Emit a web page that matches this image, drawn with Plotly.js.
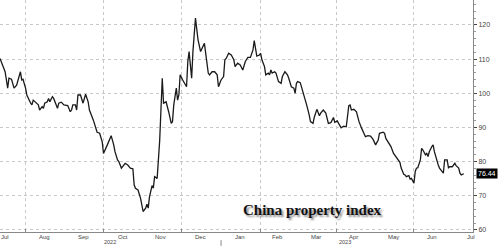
<!DOCTYPE html>
<html>
<head>
<meta charset="utf-8">
<script src="https://cdn.plot.ly/plotly-3.0.1.min.js"></script>
<style>
  html, body { margin: 0; padding: 0; background: #fff; }
  #chart { width: 500px; height: 246px; }
</style>
</head>
<body>
<div id="chart"></div>
<script>
const dates = [
  "2022-07-12","2022-07-16","2022-07-18","2022-07-19","2022-07-21","2022-07-23","2022-07-25","2022-07-26","2022-07-28","2022-07-29","2022-07-30",
  "2022-08-01","2022-08-02","2022-08-05","2022-08-06","2022-08-07","2022-08-09","2022-08-11","2022-08-12","2022-08-14","2022-08-15","2022-08-16","2022-08-18","2022-08-19","2022-08-20","2022-08-22","2022-08-23","2022-08-24","2022-08-26","2022-08-27","2022-08-29","2022-08-31",
  "2022-09-02","2022-09-03","2022-09-05","2022-09-06","2022-09-07","2022-09-09","2022-09-10","2022-09-11","2022-09-13","2022-09-15","2022-09-17","2022-09-19","2022-09-20","2022-09-23","2022-09-26","2022-09-28","2022-09-30",
  "2022-10-01","2022-10-04","2022-10-05","2022-10-07","2022-10-09","2022-10-10","2022-10-12","2022-10-13","2022-10-15","2022-10-17","2022-10-18","2022-10-20","2022-10-22","2022-10-24","2022-10-25","2022-10-26","2022-10-28","2022-10-30","2022-10-31",
  "2022-11-01","2022-11-03","2022-11-04","2022-11-05","2022-11-06","2022-11-08","2022-11-09","2022-11-10","2022-11-12","2022-11-14","2022-11-15","2022-11-16","2022-11-17","2022-11-19","2022-11-21","2022-11-23","2022-11-24","2022-11-25","2022-11-27","2022-11-28","2022-11-29","2022-11-30",
  "2022-12-02","2022-12-05","2022-12-06","2022-12-07","2022-12-09","2022-12-10","2022-12-12","2022-12-13","2022-12-14","2022-12-16","2022-12-17","2022-12-19","2022-12-20","2022-12-22","2022-12-23","2022-12-25","2022-12-27","2022-12-29","2022-12-30",
  "2023-01-01","2023-01-03","2023-01-04","2023-01-05","2023-01-07","2023-01-09","2023-01-11","2023-01-12","2023-01-14","2023-01-16","2023-01-18","2023-01-20","2023-01-22","2023-01-24","2023-01-26","2023-01-27","2023-01-28","2023-01-29","2023-01-31",
  "2023-02-01","2023-02-02","2023-02-04","2023-02-05","2023-02-07","2023-02-08","2023-02-09","2023-02-10","2023-02-12","2023-02-13","2023-02-15","2023-02-17","2023-02-18","2023-02-20","2023-02-22","2023-02-23","2023-02-25","2023-02-27","2023-02-28",
  "2023-03-01","2023-03-02","2023-03-04","2023-03-05","2023-03-07","2023-03-09","2023-03-11","2023-03-12","2023-03-14","2023-03-15","2023-03-17","2023-03-19","2023-03-20","2023-03-22","2023-03-24","2023-03-26","2023-03-28","2023-03-30","2023-03-31",
  "2023-04-02","2023-04-03","2023-04-05","2023-04-07","2023-04-09","2023-04-11","2023-04-12","2023-04-13","2023-04-15","2023-04-17","2023-04-19","2023-04-21","2023-04-23","2023-04-24","2023-04-26","2023-04-28","2023-04-30",
  "2023-05-02","2023-05-04","2023-05-05","2023-05-08","2023-05-09","2023-05-10","2023-05-12","2023-05-14","2023-05-16","2023-05-18","2023-05-20","2023-05-21","2023-05-22","2023-05-24","2023-05-25","2023-05-26","2023-05-28","2023-05-29","2023-05-30",
  "2023-06-01","2023-06-02","2023-06-03","2023-06-04","2023-06-06","2023-06-07","2023-06-08","2023-06-10","2023-06-11","2023-06-12","2023-06-13","2023-06-15","2023-06-16","2023-06-17","2023-06-19","2023-06-20","2023-06-21","2023-06-23","2023-06-24","2023-06-25","2023-06-27","2023-06-28","2023-06-29",
  "2023-07-01","2023-07-02","2023-07-03","2023-07-04","2023-07-06","2023-07-07","2023-07-08","2023-07-10"
];
const values = [
  110.2,106.3,101.5,104.4,104.1,101.5,102.4,103.9,106.3,103.9,104.1,
  101.5,99.5,97.1,96.6,98.0,97.4,96.6,95.1,96.1,95.6,97.1,97.5,98.5,97.5,99.0,98.5,97.5,95.6,97.1,97.4,96.6,
  96.4,96.4,94.6,95.1,96.6,96.6,95.1,99.5,99.5,97.1,99.7,97.5,95.1,92.2,88.6,88.3,85.8,
  82.4,84.9,85.8,87.6,84.9,82.9,80.5,80.0,78.1,79.0,79.5,79.0,78.1,77.9,73.2,72.2,71.7,69.3,67.3,
  65.4,66.4,67.5,66.4,69.7,73.0,72.2,75.6,75.1,86.3,98.0,104.4,97.1,97.5,94.6,91.2,91.7,96.6,101.5,98.0,99.5,105.4,
  103.9,101.9,109.3,112.2,104.4,112.2,122.0,118.0,115.6,112.2,113.2,114.6,111.7,105.9,105.4,106.3,106.3,105.4,101.9,
  103.9,104.9,109.8,110.2,111.7,111.2,109.8,107.8,108.8,108.3,106.8,109.3,110.5,110.5,112.7,115.4,113.2,110.9,111.2,
  111.7,109.8,107.8,105.4,105.9,105.4,106.8,105.9,106.3,105.9,103.4,102.9,104.9,106.3,105.4,104.4,101.9,101.5,100.0,
  102.9,103.4,103.1,101.9,99.0,96.6,93.7,91.7,91.2,93.0,95.3,93.4,94.2,95.1,94.2,91.2,91.4,92.9,91.5,
  91.9,91.2,89.9,90.4,90.2,96.4,96.6,95.1,95.3,94.6,91.7,89.8,87.8,87.3,87.6,87.5,86.5,
  84.9,86.3,88.3,88.6,88.3,86.8,85.7,84.4,82.4,81.5,80.5,79.8,78.1,76.3,76.1,75.6,75.9,74.9,75.1,
  73.7,77.1,78.1,78.2,80.5,83.9,83.4,82.0,82.4,81.5,82.9,84.4,84.9,82.9,80.0,79.0,78.1,77.1,76.6,80.5,80.5,78.2,78.5,
  78.5,79.2,79.5,78.8,78.1,76.6,76.1,76.44
];
const monthTickVals = ["2022-07-16","2022-08-16","2022-09-15","2022-10-16","2022-11-15","2022-12-16","2023-01-16","2023-02-14","2023-03-16","2023-04-15","2023-05-16","2023-06-15","2023-07-16"];
const monthTickText = ["Jul","Aug","Sep","Oct","Nov","Dec","Jan","Feb","Mar","Apr","May","Jun","Jul"];
const yearLabels = ["2022","2023"];
const yearLabelDates = ["2022-10-06","2023-04-08"];
const yearBreak = "2023-01-01";
const yTickVals = [60,70,80,90,100,110,120];
const lastValueText = "76.44";
const chartTitle = "China property index";

const trace = {
  x: dates, y: values, type: 'scatter', mode: 'lines',
  line: {color: '#1a1a1a', width: 1.3},
  hoverinfo: 'skip'
};

const smallFont = {family: 'Arial, Liberation Sans, sans-serif', size: 6, color: '#444'};

const monthAnnotations = monthTickVals.map((d, i) => ({
  xref: 'x', yref: 'paper', x: d, y: 0, yanchor: 'top', yshift: -0.5, borderpad: 0,
  text: monthTickText[i], showarrow: false, font: smallFont
}));
const yearAnnotations = yearLabels.map((t, i) => ({
  xref: 'x', yref: 'paper', x: yearLabelDates[i], y: -0.0603, yanchor: 'bottom', borderpad: 0,
  text: t, showarrow: false, font: {family: 'Arial, Liberation Sans, sans-serif', size: 5.5, color: '#444'}
}));

const layout = {
  width: 500, height: 246,
  margin: {l: 0, r: 27, t: 0, b: 14, pad: 0},
  paper_bgcolor: '#fff', plot_bgcolor: '#fff',
  showlegend: false,
  xaxis: {
    type: 'date',
    range: ['2022-07-12', '2023-07-17 05:00'],
    showticklabels: false,
    ticks: '', showgrid: false,
    showline: true, linecolor: '#888', linewidth: 1,
    zeroline: false,
    minor: {dtick: 'M1', tick0: '2022-07-01', showgrid: true, gridcolor: '#c8c8c8', griddash: 'dot', gridwidth: 1, ticks: 'inside', ticklen: 3, tickcolor: '#888'}
  },
  yaxis: {
    side: 'right',
    range: [59.4, 127.3],
    tickmode: 'array', tickvals: yTickVals,
    ticks: 'outside', ticklen: 3, tickcolor: '#444', tickwidth: 1,
    tickfont: {family: 'Arial, Liberation Sans, sans-serif', size: 7, color: '#444'},
    showgrid: true, gridcolor: '#c8c8c8', griddash: 'dot', gridwidth: 1,
    showline: true, linecolor: '#888', linewidth: 1,
    zeroline: false,
    minor: {dtick: 2, ticks: 'outside', ticklen: 1.5, tickcolor: '#999', showgrid: false}
  },
  shapes: [
    {type: 'line', xref: 'x', yref: 'paper', x0: yearBreak, x1: yearBreak, y0: -0.035, y1: -0.06, line: {color: '#888', width: 1}}
  ],
  annotations: monthAnnotations.concat(yearAnnotations, [
    {xref: 'paper', yref: 'y', x: 1, y: values[values.length - 1], xanchor: 'left', xshift: 3, text: lastValueText, showarrow: false, bgcolor: '#000', borderpad: 1, font: {family: 'Arial, Liberation Sans, sans-serif', size: 7, color: '#fff'}},
    {xref: 'paper', yref: 'paper', x: 0.66, y: 0.095, xanchor: 'center', yanchor: 'middle', text: '<b>' + chartTitle + '</b>', showarrow: false,
     font: {family: 'Liberation Serif, Times New Roman, serif', size: 15, color: '#111', shadow: '2px 2px 2px rgba(0,0,0,0.45)'}}
  ])
};

Plotly.newPlot('chart', [trace], layout, {staticPlot: true, displayModeBar: false});
</script>
</body>
</html>
